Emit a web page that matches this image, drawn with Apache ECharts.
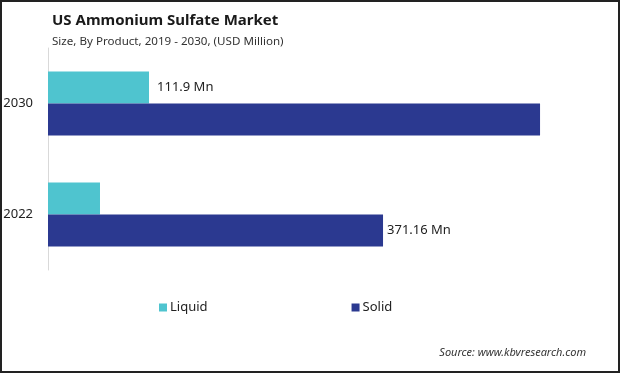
<!DOCTYPE html>
<html><head><meta charset="utf-8">
<script src="https://cdn.jsdelivr.net/npm/echarts@6/dist/echarts.min.js"></script>
<style>html,body{margin:0;padding:0;background:#fff}#c{width:620px;height:373px}</style>
</head><body><div id="c"></div>
<script>
const categories = ['2030', '2022'];
const liquidValues = [111.9, 57.6];
const solidValues = [545.1, 371.16];
const liquidLabels = ['111.9 Mn', ''];
const solidLabels = ['', '371.16 Mn'];

const chart = echarts.init(document.getElementById('c'), null, {renderer: 'canvas'});
const FONT = 'Noto Sans';
chart.setOption({
  backgroundColor: '#fff',
  animation: false,
  title: {
    text: 'US Ammonium Sulfate Market',
    subtext: 'Size, By Product, 2019 - 2030, (USD Million)',
    left: 52, top: 13, padding: 0, itemGap: 8,
    textStyle: {fontFamily: FONT, fontSize: 15, fontWeight: 'bold', color: '#1a1a1a'},
    subtextStyle: {fontFamily: FONT, fontSize: 11.6, color: '#333'}
  },
  legend: {
    data: ['Liquid', 'Solid'],
    left: 154, top: 296, itemGap: 144,
    itemWidth: 8, itemHeight: 8, icon: 'rect',
    textStyle: {fontFamily: FONT, fontSize: 13, color: '#222', padding: [0, 0, 0, -2]}
  },
  grid: {left: 48, right: 30.4, top: 48, bottom: 103, containLabel: false},
  xAxis: {type: 'value', min: 0, max: 600, show: false},
  yAxis: {
    type: 'category', data: categories, inverse: true,
    axisLine: {show: true, lineStyle: {color: '#d9d9d9', width: 1}},
    axisTick: {show: false},
    axisLabel: {fontFamily: FONT, fontSize: 13, color: '#222', margin: 15},
  },
  series: [
    {name: 'Liquid', type: 'bar', data: liquidValues, barWidth: 32, barGap: '0%',
     itemStyle: {color: '#4fc4cf'},
     label: {show: true, position: 'right', distance: 8, fontFamily: FONT, fontSize: 13, color: '#222',
       formatter: p => liquidLabels[p.dataIndex]}},
    {name: 'Solid', type: 'bar', data: solidValues, barWidth: 32, barGap: '0%',
     itemStyle: {color: '#2b3990'},
     label: {show: true, position: 'right', distance: 4, fontFamily: FONT, fontSize: 13, color: '#222',
       formatter: p => solidLabels[p.dataIndex]}}
  ],
  graphic: [
    {type: 'text', right: 34, top: 347,
     style: {text: 'Source: www.kbvresearch.com', font: 'italic 11px "Noto Sans"', fill: '#333'}},
    {type: 'rect', shape: {x: 1, y: 1, width: 618, height: 371},
     style: {fill: 'none', stroke: '#222', lineWidth: 2}, silent: true}
  ]
});
</script></body></html>
